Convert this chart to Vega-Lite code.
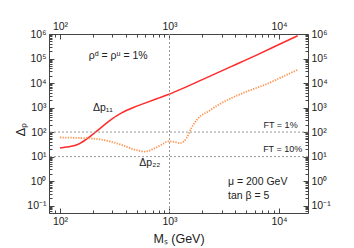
{
  "$schema": "https://vega.github.io/schema/vega-lite/v6.json",
  "width": 259,
  "height": 179,
  "autosize": "none",
  "padding": {"left": 49, "top": 34, "right": 46, "bottom": 35},
  "background": "white",
  "config": {
    "view": {"stroke": "#444", "strokeWidth": 1},
    "axis": {"grid": false, "domain": false, "labelFont": "Liberation Sans", "labelFontSize": 10.5, "labelColor": "#222", "tickColor": "#444", "titleFont": "Liberation Sans", "titleFontWeight": "normal", "titleColor": "#222"},
    "text": {"font": "Liberation Sans", "fontSize": 10.5, "color": "#222"}
  },
  "datasets": {
    "p11": [
      {"x": 100, "y": 22.4}, {"x": 120, "y": 25.1}, {"x": 147, "y": 32}, {"x": 181, "y": 58},
      {"x": 240, "y": 160}, {"x": 295, "y": 331}, {"x": 366, "y": 603}, {"x": 468, "y": 1000},
      {"x": 597, "y": 1514}, {"x": 776, "y": 2344}, {"x": 975, "y": 3388}, {"x": 1247, "y": 5370},
      {"x": 1995, "y": 13800}, {"x": 3698, "y": 47900}, {"x": 6310, "y": 141000}, {"x": 10000, "y": 372000},
      {"x": 14800, "y": 851000}
    ],
    "p22": [
      {"x": 100, "y": 60}, {"x": 126, "y": 59}, {"x": 158, "y": 57}, {"x": 200, "y": 54},
      {"x": 240, "y": 49}, {"x": 295, "y": 40}, {"x": 366, "y": 30}, {"x": 484, "y": 19},
      {"x": 597, "y": 16}, {"x": 738, "y": 22}, {"x": 871, "y": 33}, {"x": 975, "y": 42},
      {"x": 1096, "y": 40}, {"x": 1247, "y": 35.5}, {"x": 1435, "y": 57.5}, {"x": 1585, "y": 145},
      {"x": 1832, "y": 372}, {"x": 2259, "y": 692}, {"x": 2818, "y": 1318}, {"x": 3698, "y": 2455},
      {"x": 5248, "y": 4786}, {"x": 7447, "y": 8511}, {"x": 10470, "y": 17000}, {"x": 14800, "y": 34700}
    ]
  },
  "layer": [
    {
      "data": {"name": "p11"},
      "mark": {"type": "line", "color": "#ff2a2a", "strokeWidth": 1.5, "interpolate": "monotone", "clip": true},
      "encoding": {
        "x": {"field": "x", "type": "quantitative", "scale": {"type": "log", "domain": [79.4, 18400], "nice": false},
          "axis": {"orient": "bottom", "values": [100, 1000, 10000], "tickSize": -5, "labelPadding": 8, "labelExpr": "'10' + ['⁻¹','⁰','¹','²','³','⁴','⁵','⁶'][round(log(datum.value)/LN10)+1]",
            "title": "Mₛ  (GeV)", "titleFontSize": 12.5, "titlePadding": 6}},
        "y": {"field": "y", "type": "quantitative", "scale": {"type": "log", "domain": [0.05, 1000000], "nice": false},
          "axis": {"orient": "left", "values": [0.1, 1, 10, 100, 1000, 10000, 100000, 1000000], "tickSize": -5, "labelPadding": 8, "labelExpr": "'10' + ['⁻¹','⁰','¹','²','³','⁴','⁵','⁶'][round(log(datum.value)/LN10)+1]",
            "title": "Δₚ", "titleFontSize": 12.5, "titleX": -29, "titleY": 95, "titleAngle": -90, "titleAlign": "center", "titleBaseline": "middle"}}
      }
    },
    {
      "data": {"name": "p22"},
      "mark": {"type": "line", "color": "#ff9350", "strokeWidth": 1.8, "strokeDash": [1.3, 1.3], "interpolate": "monotone", "clip": true},
      "encoding": {
        "x": {"field": "x", "type": "quantitative",
          "axis": {"orient": "top", "values": [100, 1000, 10000], "tickSize": -5, "labelPadding": 8, "labelExpr": "'10' + ['⁻¹','⁰','¹','²','³','⁴','⁵','⁶'][round(log(datum.value)/LN10)+1]", "title": null}},
        "y": {"field": "y", "type": "quantitative",
          "axis": {"orient": "right", "values": [0.1, 1, 10, 100, 1000, 10000, 100000, 1000000], "tickSize": -5, "labelPadding": 8, "labelExpr": "'10' + ['⁻¹','⁰','¹','²','³','⁴','⁵','⁶'][round(log(datum.value)/LN10)+1]", "title": null}}
      }
    },
    {
      "data": {"values": [{"y": 100}, {"y": 10}]},
      "mark": {"type": "rule", "color": "#999", "strokeWidth": 1, "strokeDash": [2, 2]},
      "encoding": {
        "y": {"field": "y", "type": "quantitative",
          "axis": {"orient": "left", "values": [0.06, 0.07, 0.08, 0.09, 0.2, 0.3, 0.4, 0.5, 0.6, 0.7, 0.8, 0.9, 2, 3, 4, 5, 6, 7, 8, 9, 20, 30, 40, 50, 60, 70, 80, 90, 200, 300, 400, 500, 600, 700, 800, 900, 2000, 3000, 4000, 5000, 6000, 7000, 8000, 9000, 20000, 30000, 40000, 50000, 60000, 70000, 80000, 90000, 200000, 300000, 400000, 500000, 600000, 700000, 800000, 900000], "tickSize": -3, "labels": false, "title": null}}
      }
    },
    {
      "data": {"values": [{"x": 1000}]},
      "mark": {"type": "rule", "color": "#999", "strokeWidth": 1, "strokeDash": [2, 2]},
      "encoding": {
        "x": {"field": "x", "type": "quantitative",
          "axis": {"orient": "bottom", "values": [80, 90, 200, 300, 400, 500, 600, 700, 800, 900, 2000, 3000, 4000, 5000, 6000, 7000, 8000, 9000], "tickSize": -3, "labels": false, "title": null}}
      }
    },
    {
      "data": {"values": [{"x": 1000, "y": 1}]},
      "mark": {"type": "point", "opacity": 0},
      "encoding": {
        "x": {"field": "x", "type": "quantitative",
          "axis": {"orient": "top", "values": [80, 90, 200, 300, 400, 500, 600, 700, 800, 900, 2000, 3000, 4000, 5000, 6000, 7000, 8000, 9000], "tickSize": -3, "labels": false, "title": null}},
        "y": {"field": "y", "type": "quantitative",
          "axis": {"orient": "right", "values": [0.06, 0.07, 0.08, 0.09, 0.2, 0.3, 0.4, 0.5, 0.6, 0.7, 0.8, 0.9, 2, 3, 4, 5, 6, 7, 8, 9, 20, 30, 40, 50, 60, 70, 80, 90, 200, 300, 400, 500, 600, 700, 800, 900, 2000, 3000, 4000, 5000, 6000, 7000, 8000, 9000, 20000, 30000, 40000, 50000, 60000, 70000, 80000, 90000, 200000, 300000, 400000, 500000, 600000, 700000, 800000, 900000], "tickSize": -3, "labels": false, "title": null}}
      }
    },
    {
      "data": {"values": [
        {"x": 200, "y": 1000, "label": "Δp₁₁"},
        {"x": 530, "y": 5.5, "label": "Δp₂₂"},
        {"x": 3420, "y": 0.95, "label": "μ = 200 GeV"},
        {"x": 3420, "y": 0.25, "label": "tan β = 5"}
      ]},
      "mark": {"type": "text", "align": "left", "baseline": "middle"},
      "encoding": {
        "x": {"field": "x", "type": "quantitative", "axis": null},
        "y": {"field": "y", "type": "quantitative", "axis": null},
        "text": {"field": "label"}
      }
    },
    {
      "data": {"values": [
        {"x": 340, "y": 130000, "label": "ρᵈ = ρᵘ = 1%"}
      ]},
      "mark": {"type": "text", "align": "center", "baseline": "middle"},
      "encoding": {
        "x": {"field": "x", "type": "quantitative", "axis": null},
        "y": {"field": "y", "type": "quantitative", "axis": null},
        "text": {"field": "label"}
      }
    },
    {
      "data": {"values": [
        {"x": 14800, "y": 200, "label": "FT = 1%"},
        {"x": 16300, "y": 20, "label": "FT = 10%"}
      ]},
      "mark": {"type": "text", "align": "right", "baseline": "middle", "fontSize": 9},
      "encoding": {
        "x": {"field": "x", "type": "quantitative", "axis": null},
        "y": {"field": "y", "type": "quantitative", "axis": null},
        "text": {"field": "label"}
      }
    }
  ],
  "resolve": {"axis": {"x": "independent", "y": "independent"}}
}
